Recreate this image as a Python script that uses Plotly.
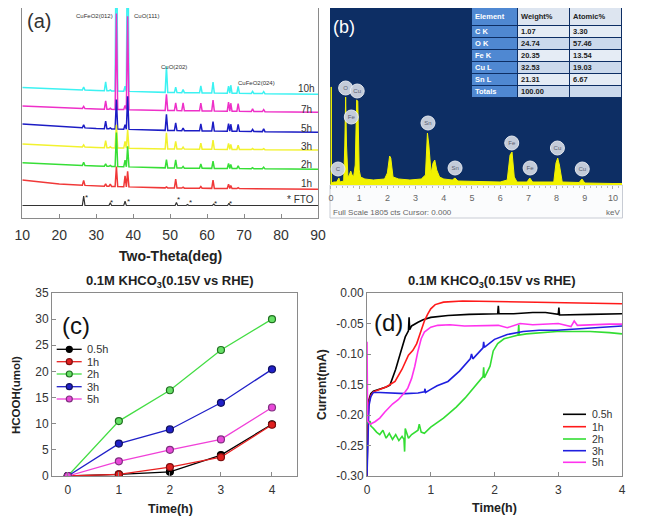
import plotly.graph_objects as go
import numpy as np

# page body has an 8px default margin: draw the figure 16px smaller and offset all pixel positions
OFF = 8
FW, FH = 659 - 2 * OFF, 532 - 2 * OFF
def px(x): return min(max((x - OFF) / FW, 0), 1)
def py(y): return min(max(1 - (y - OFF) / FH, 0), 1)

FONT = "Arial, Liberation Sans, sans-serif"

# ---------------- (a) XRD ----------------
xrd_names = ["10h", "7h", "5h", "3h", "2h", "1h"]
xrd_colors = ["#3cf2f2", "#ee30c8", "#1c1cc4", "#f2f22e", "#36de36", "#f03838"]
base_x = [10, 20, 30, 50, 90]
base_10h = [130.5, 129, 127.5, 125.5, 123.7]
base_7h = [112, 110.5, 109, 107.5, 105.7]
base_5h = [94, 91.5, 89.5, 87.5, 85.7]
base_3h = [74, 72, 70.5, 69, 68]
base_2h = [55.3, 53.5, 52, 50, 48.7]
base_1h = [38, 34, 32, 30, 28.7]
base_fto = [12.5, 12.5, 12.5, 12.5, 12.5]
peak_pos = [26.6, 32.55, 33.8, 35.46, 37.8, 38.5, 49.0, 51.5, 53.5, 58.3, 61.6, 65.8, 66.4, 68.4, 72.3, 75.3]
h_10h = [3, 9, 1, 200, 5, 200, 26, 5.5, 3, 7, 11, 7, 8, 7, 2, 2]
h_7h = [2, 8.3, 1, 96, 4, 93.5, 16, 7.7, 7.7, 7.7, 11, 9, 8, 7.7, 2.7, 2]
h_5h = [3, 7.7, 1, 29.5, 4.7, 33, 16, 7.7, 2.7, 7, 9.3, 7.7, 7, 7, 2, 2.7]
h_3h = [2, 7, 1, 23, 6.7, 18.5, 16, 7.7, 2, 6, 9.3, 6, 5, 4.3, 1, 1]
h_2h = [3.3, 2.3, 1, 34, 6.7, 20.5, 8.3, 8.3, 1.7, 4.3, 7.3, 5, 4, 2.7, 1, 1.7]
h_1h = [5, 2.3, 2.3, 20, 11, 15.5, 1, 9, 1, 1.7, 8.3, 4.3, 3, 1, 0.5, 0.5]
fto_pos = [26.6, 33.8, 37.8, 51.7, 54.7, 61.8, 65.9]
fto_h = [9.5, 2.7, 4.3, 3, 1, 1.3, 2.3]
star_x = [27.3, 34.0, 38.8, 52.2, 55.6, 62.4, 66.4]
star_y = [23, 18, 19, 21, 18, 16.3, 16.3]
label_y = [130, 109, 89.7, 72, 54, 35]

# ---------------- (b) EDS ----------------
eds_kev = [-0.04, 0.0, 0.005, 0.012, 0.02, 0.1, 0.2, 0.25, 0.28, 0.32, 0.45, 0.49, 0.52, 0.55, 0.6, 0.65, 0.7, 0.75, 0.8,
           0.86, 0.91, 0.95, 1.0, 1.05, 1.2, 1.5, 1.9, 2.0, 2.08, 2.12, 2.2, 2.4, 2.8, 3.2, 3.35, 3.42, 3.47, 3.55,
           3.62, 3.68, 3.75, 3.85, 4.0, 4.3, 4.4, 4.5, 5.0, 6.0, 6.25, 6.35, 6.42, 6.5, 6.6, 6.95, 7.05, 7.15, 7.9,
           7.98, 8.04, 8.1, 8.2, 8.8, 8.9, 9.0, 10.0, 10.35]
eds_cts = [0, 0, 98, 98, 2, 3, 3, 5, 7, 3, 4, 40, 88, 40, 8, 10, 14, 10, 8,
           20, 85, 84, 15, 8, 6, 5, 6, 12, 29, 27, 8, 6, 5, 6, 10, 52, 40, 12,
           22, 25, 15, 8, 6, 5, 7, 4, 3.5, 3, 5, 30, 33, 8, 3, 3, 7, 3, 3,
           22, 27, 20, 3, 2.5, 6, 2, 1.5, 1.5]
eds_el = ["C", "O", "Fe", "Cu", "Sn", "Sn", "Fe", "Fe", "Cu", "Cu"]
eds_el_x = [0.25, 0.52, 0.72, 0.93, 3.44, 4.4, 6.41, 7.06, 8.03, 8.91]
eds_el_y = [16, 97, 68, 94, 62, 17, 42, 17, 37, 16]
eds_ticks = list(range(0, 11))

tbl_header = ["Element", "Weight%", "Atomic%"]
tbl_elem = ["C K", "O K", "Fe K", "Cu L", "Sn L", "Totals"]
tbl_weight = ["1.07", "24.74", "20.35", "32.53", "21.31", "100.00"]
tbl_atomic = ["3.30", "57.46", "13.54", "19.03", "6.67", ""]

# ---------------- (c) HCOOH ----------------
c_time = [0, 1, 2, 3, 4]
c_names = ["0.5h", "1h", "2h", "3h", "5h"]
c_05h = [0, 0.3, 0.8, 4.0, 9.9]
c_1h = [0, 0.3, 1.7, 3.6, 9.8]
c_2h = [0, 10.5, 16.4, 24.1, 30.0]
c_3h = [0, 6.2, 8.9, 14.0, 20.4]
c_5h = [0, 2.8, 5.0, 7.0, 13.1]
c_line = ["#000000", "#e82020", "#44dd44", "#2020c8", "#f040d8"]
c_fill = ["#000000", "#e02020", "#66e066", "#2020c8", "#e848d8"]
c_edge = ["#000000", "#801010", "#207020", "#101060", "#803080"]

# ---------------- (d) current ----------------
d_names = ["0.5h", "1h", "2h", "3h", "5h"]
d_colors = ["#000000", "#ff1a1a", "#33dd33", "#1f1fdf", "#ff33ee"]
t_05h = [0, 0.01, 0.03, 0.06, 0.1, 0.2, 0.3, 0.36, 0.45, 0.52, 0.6, 0.65, 0.66, 0.67, 0.7, 0.8, 0.88, 1.0, 1.27,
         1.6, 2.0, 2.05, 2.06, 2.07, 2.3, 2.6, 2.8, 3.0, 3.01, 3.02, 3.5, 4.0]
i_05h = [-0.30, -0.22, -0.175, -0.165, -0.161, -0.158, -0.154, -0.151, -0.125, -0.10, -0.072, -0.062, -0.040, -0.060,
         -0.054, -0.048, -0.044, -0.040, -0.037, -0.035, -0.034, -0.034, -0.021, -0.034, -0.034, -0.032, -0.032,
         -0.035, -0.024, -0.036, -0.035, -0.034]
t_1h = [0, 0.01, 0.03, 0.06, 0.1, 0.2, 0.3, 0.44, 0.55, 0.65, 0.72, 0.78, 0.84, 0.9, 0.95, 1.0, 1.07, 1.2, 1.5, 2.0,
        2.5, 3.0, 3.5, 4.0]
i_1h = [-0.30, -0.22, -0.18, -0.168, -0.162, -0.158, -0.154, -0.145, -0.125, -0.102, -0.094, -0.083, -0.063, -0.046,
        -0.035, -0.026, -0.019, -0.015, -0.013, -0.014, -0.014, -0.015, -0.016, -0.0175]
t_2h = [0, 0.01, 0.05, 0.06, 0.1, 0.15, 0.2, 0.25, 0.3, 0.35, 0.4, 0.45, 0.5, 0.55, 0.58, 0.59, 0.6, 0.65, 0.7, 0.75,
        0.8, 0.82, 0.85, 0.9, 1.0, 1.2, 1.4, 1.54, 1.7, 1.82, 1.83, 1.84, 1.93, 1.98, 2.05, 2.15, 2.3, 2.37, 2.38,
        2.39, 2.5, 2.7, 2.98, 3.2, 3.5, 3.8, 4.0]
i_2h = [-0.21, -0.215, -0.21, -0.218, -0.222, -0.228, -0.232, -0.225, -0.238, -0.23, -0.24, -0.232, -0.242, -0.235,
        -0.24, -0.26, -0.222, -0.238, -0.232, -0.228, -0.225, -0.215, -0.228, -0.23, -0.22, -0.205, -0.187, -0.172,
        -0.152, -0.137, -0.122, -0.139, -0.12, -0.095, -0.083, -0.075, -0.071, -0.069, -0.052, -0.069, -0.067,
        -0.065, -0.063, -0.063, -0.063, -0.065, -0.067]
t_3h = [0, 0.01, 0.03, 0.06, 0.1, 0.2, 0.39, 0.6, 0.8, 0.9, 0.91, 0.92, 1.0, 1.1, 1.27, 1.45, 1.62, 1.64, 1.66, 1.75,
        1.82, 1.83, 1.84, 2.0, 2.2, 2.45, 2.7, 2.98, 3.3, 3.5, 3.8, 4.0]
i_3h = [-0.30, -0.25, -0.185, -0.17, -0.163, -0.163, -0.164, -0.165, -0.164, -0.162, -0.157, -0.163, -0.158, -0.152,
        -0.145, -0.128, -0.108, -0.100, -0.108, -0.097, -0.090, -0.080, -0.089, -0.076, -0.068, -0.063, -0.061,
        -0.061, -0.059, -0.058, -0.056, -0.054]
t_5h = [0, 0.003, 0.006, 0.01, 0.05, 0.125, 0.2, 0.28, 0.4, 0.49, 0.6, 0.64, 0.7, 0.75, 0.8, 0.85, 0.9, 1.0, 1.11,
        1.3, 1.53, 1.8, 2.06, 2.2, 2.4, 2.6, 2.8, 3.0, 3.2, 3.25, 3.3, 3.5, 3.8, 4.0]
i_5h = [-0.08, -0.21, -0.12, -0.21, -0.215, -0.211, -0.205, -0.195, -0.182, -0.175, -0.162, -0.156, -0.14, -0.12,
        -0.095, -0.075, -0.064, -0.056, -0.053, -0.052, -0.054, -0.053, -0.053, -0.057, -0.05, -0.052, -0.051,
        -0.05, -0.055, -0.046, -0.053, -0.052, -0.051, -0.051]

# ======================================================
fig = go.Figure()

def xrd_line(bx, by, pos, hts, hw):
    pts = [(x, y) for x, y in zip(bx, by)]
    for p, h in zip(pos, hts):
        for xx, add in ((p - hw, 0.0), (p, h), (p + hw, 0.0)):
            pts.append((xx, float(np.interp(xx, bx, by)) + add))
    pts.sort(key=lambda t: t[0])
    return [p[0] for p in pts], [p[1] for p in pts]

fx, fy = xrd_line(base_x, base_fto, fto_pos, fto_h, 0.35)
fig.add_trace(go.Scatter(x=fx, y=fy, mode="lines", line=dict(color="#333333", width=1.2),
                         xaxis="x", yaxis="y", showlegend=False))
for name, col, b, hts in zip(xrd_names, xrd_colors,
                             [base_10h, base_7h, base_5h, base_3h, base_2h, base_1h],
                             [h_10h, h_7h, h_5h, h_3h, h_2h, h_1h]):
    lx, ly = xrd_line(base_x, b, peak_pos, hts, 0.35)
    fig.add_trace(go.Scatter(x=lx, y=ly, mode="lines", line=dict(color=col, width=1.5),
                             xaxis="x", yaxis="y", showlegend=False, name=name))

# (b) EDS spectrum
fig.add_trace(go.Scatter(x=eds_kev, y=eds_cts, mode="lines", fill="tozeroy",
                         fillcolor="#f2f200", line=dict(color="#f2f200", width=1),
                         xaxis="x2", yaxis="y2", showlegend=False))
fig.add_trace(go.Scatter(x=eds_el_x, y=eds_el_y, mode="markers+text", text=eds_el,
                         textfont=dict(size=6, color="#5a6070", family=FONT),
                         marker=dict(size=14, color="#cdd4e0", line=dict(color="#eef1f6", width=1), opacity=0.95),
                         xaxis="x2", yaxis="y2", showlegend=False))

# (b) table as a heatmap of cell colours + text
col_edges = [0, 46, 98, 150]
row_edges = [0, 18, 30, 42, 54, 66, 78, 90]
z_tbl = [[0, 1, 1]] + [[0, 2 + (r % 2), 2 + (r % 2)] for r in range(6)]
fig.add_trace(go.Heatmap(x=col_edges, y=row_edges, z=z_tbl, zmin=0, zmax=3, showscale=False,
                         colorscale=[[0, "#4f88d2"], [1 / 3, "#dde5f0"], [2 / 3, "#e5ecf5"], [1, "#cbd9ec"]],
                         xgap=1, ygap=1, hoverinfo="skip", xaxis="x5", yaxis="y5"))
tbl_rows = [tbl_header] + [list(r) for r in zip(tbl_elem, tbl_weight, tbl_atomic)]
row_mid = [(row_edges[i] + row_edges[i + 1]) / 2 for i in range(len(row_edges) - 1)]
for ci, cx in enumerate(col_edges[:-1]):
    pairs = [(r[ci], ym) for r, ym in zip(tbl_rows, row_mid) if r[ci]]
    fig.add_trace(go.Scatter(x=[cx + 3] * len(pairs), y=[p[1] for p in pairs], mode="text",
                             text=[p[0] for p in pairs], textposition="middle right",
                             textfont=dict(size=7.5, family=FONT, weight="bold",
                                           color="white" if ci == 0 else "#222222"),
                             hoverinfo="skip", showlegend=False, xaxis="x5", yaxis="y5"))

# (c) HCOOH
for name, ys, lc, fc, ec in zip(c_names, [c_05h, c_1h, c_2h, c_3h, c_5h], c_line, c_fill, c_edge):
    fig.add_trace(go.Scatter(x=c_time, y=ys, mode="lines+markers", name=name,
                             line=dict(color=lc, width=1.3),
                             marker=dict(size=7, color=fc, line=dict(color=ec, width=1.2)),
                             xaxis="x3", yaxis="y3", showlegend=False))

# (d) current
for name, tt, ii, col in zip(d_names, [t_05h, t_1h, t_2h, t_3h, t_5h], [i_05h, i_1h, i_2h, i_3h, i_5h], d_colors):
    fig.add_trace(go.Scatter(x=tt, y=ii, mode="lines", name=name, line=dict(color=col, width=1.6),
                             xaxis="x4", yaxis="y4", showlegend=False))

# ---------------- axes ----------------
axcol = "#8a8a8a"
tickfont = dict(family=FONT, size=14, color="#333333")
fig.update_layout(
    width=FW, height=FH, margin=dict(l=0, r=0, t=0, b=0, autoexpand=False),
    paper_bgcolor="white", plot_bgcolor="rgba(0,0,0,0)",
    font=dict(family=FONT),
    xaxis=dict(domain=[px(22.3), px(318)], range=[10, 90], tickvals=list(range(10, 91, 10)),
               ticks="inside", ticklen=4, tickcolor=axcol, showline=True, mirror=True, linecolor=axcol,
               linewidth=1.2, showgrid=False, zeroline=False, tickfont=tickfont, ticklabelstandoff=4,
               anchor="y"),
    yaxis=dict(domain=[py(218), py(6)], range=[0, 210], showticklabels=False, ticks="", showline=True,
               mirror=True, linecolor=axcol, linewidth=1.2, showgrid=False, zeroline=False, anchor="x"),
    xaxis2=dict(domain=[px(330), px(622)], range=[-0.035, 10.32], tickvals=eds_ticks, ticks="outside",
                ticklen=3, tickcolor="#aaaaaa", showline=False, showgrid=False, zeroline=False,
                tickfont=dict(family=FONT, size=9, color="#666666"), ticklabelstandoff=1,
                minor=dict(dtick=0.2, ticks="outside", ticklen=2, tickcolor="#bbbbbb"), anchor="y2"),
    yaxis2=dict(domain=[py(185), py(6)], range=[0, 177], visible=False, anchor="x2"),
    xaxis5=dict(domain=[px(472), px(622)], range=[0, 150], visible=False, anchor="y5", fixedrange=True),
    yaxis5=dict(domain=[py(98), py(8)], range=[90, 0], visible=False, anchor="x5", fixedrange=True),
    xaxis3=dict(domain=[px(52), px(297)], range=[-0.31, 4.49], tickvals=c_time, ticks="inside", ticklen=4,
                tickcolor=axcol, showline=True, mirror=True, linecolor=axcol, showgrid=False, zeroline=False,
                tickfont=dict(family=FONT, size=12, color="#333333"), ticklabelstandoff=3, anchor="y3"),
    yaxis3=dict(domain=[py(476), py(293)], range=[0, 35], tickvals=[0, 5, 10, 15, 20, 25, 30, 35],
                ticks="inside", ticklen=4, tickcolor=axcol, showline=True, mirror=True, linecolor=axcol,
                showgrid=False, zeroline=False, tickfont=dict(family=FONT, size=12, color="#333333"),
                anchor="x3"),
    xaxis4=dict(domain=[px(367), px(622)], range=[0, 4], tickvals=[0, 1, 2, 3, 4], ticks="inside", ticklen=4,
                tickcolor=axcol, showline=True, mirror=True, linecolor=axcol, showgrid=False, zeroline=False,
                tickfont=dict(family=FONT, size=12, color="#333333"), ticklabelstandoff=3, anchor="y4"),
    yaxis4=dict(domain=[py(476), py(293)], range=[-0.30, 0.0],
                tickvals=[0, -0.05, -0.10, -0.15, -0.20, -0.25, -0.30],
                ticktext=["0.00", "-0.05", "-0.10", "-0.15", "-0.20", "-0.25", "-0.30"],
                ticks="inside", ticklen=4, tickcolor=axcol, showline=True, mirror=True, linecolor=axcol,
                showgrid=False, zeroline=False, tickfont=dict(family=FONT, size=12, color="#333333"),
                anchor="x4"),
)

shapes = [
    dict(type="rect", xref="paper", yref="paper", x0=px(330), x1=px(622), y0=py(185), y1=py(6),
         fillcolor="#0d2e64", line=dict(width=0), layer="below"),
    dict(type="rect", xref="paper", yref="paper", x0=px(330), x1=px(622.5), y0=py(218), y1=py(185),
         fillcolor="#fbfcfd", line=dict(color="#c8ccd4", width=1), layer="below"),
]
ann = []
def A(text, x, y, size, color="#222222", bold=False, xanchor="center", xref="paper", yref="paper", **kw):
    t = "<b>%s</b>" % text if bold else text
    ann.append(dict(text=t, x=x, y=y, xref=xref, yref=yref, showarrow=False, xanchor=xanchor, yanchor="middle",
                    font=dict(family=FONT, size=size, color=color), **kw))

# (a) annotations (peak labels in data coordinates)
A("(a)", px(39), py(21), 20, "#333333")
A("CuFeO2(012)", 35.0, 218 - 16, 6, "#333333", xanchor="right", xref="x", yref="y")
A("CuO(111)", 39.6, 218 - 16, 6, "#333333", xanchor="left", xref="x", yref="y")
A("CuO(202)", 47.1, 218 - 66.7, 6, "#333333", xanchor="left", xref="x", yref="y")
A("CuFeO2(024)", 67.8, 218 - 83.3, 6, "#333333", xanchor="left", xref="x", yref="y")
for lab, yv in zip(xrd_names, label_y):
    A(lab, 86.8, yv, 10, "#333333", xref="x", yref="y")
A("* FTO", 85.3, 19, 10, "#333333", xref="x", yref="y")
for sx, sy in zip(star_x, star_y):
    A("*", sx, sy, 8, "#222222", xref="x", yref="y", yshift=-2)
A("Two-Theta(deg)", px(170), py(256), 14, "#222222", bold=True)

# (b) annotations
A("(b)", px(344), py(27), 18, "white")
A("Full Scale 1805 cts Cursor: 0.000", px(331), py(212), 8, "#666666", xanchor="left")
A("keV", px(622), py(212), 8, "#666666", xanchor="right")

# (c) annotations
A("0.1M KHCO<sub>3</sub>(0.15V vs RHE)", px(170), py(281), 13, "#222222", bold=True)
A("(c)", px(76), py(325), 24, "#111111")
A("Time(h)", px(170), py(509), 12.5, "#222222", bold=True)
A("HCOOH(umol)", px(16), py(395), 11.5, "#222222", bold=True, textangle=-90)
leg_c_y = [349.3, 361.7, 374, 386.7, 399]
for name, yy, lc, fc, ec in zip(c_names, leg_c_y, c_line, c_fill, c_edge):
    shapes.append(dict(type="line", xref="paper", yref="paper", x0=px(56.7), x1=px(81.7), y0=py(yy), y1=py(yy),
                       line=dict(color=lc, width=1.3)))
    shapes.append(dict(type="circle", xref="paper", yref="paper", x0=px(66.3), x1=px(72.3), y0=py(yy + 3),
                       y1=py(yy - 3), fillcolor=fc, line=dict(color=ec, width=1.2)))
    A(name, px(85), py(yy), 11, "#333333", xanchor="left")

# (d) annotations
A("0.1M KHCO<sub>3</sub>(0.15V vs RHE)", px(492), py(281), 13, "#222222", bold=True)
A("(d)", px(388), py(322), 24, "#111111")
A("Time(h)", px(494), py(508), 12.5, "#222222", bold=True)
A("Current(mA)", px(322), py(385), 12, "#222222", bold=True, textangle=-90)
leg_d_y = [414.3, 426.7, 439, 450.7, 462.3]
for name, yy, col in zip(d_names, leg_d_y, d_colors):
    shapes.append(dict(type="line", xref="paper", yref="paper", x0=px(563), x1=px(586), y0=py(yy), y1=py(yy),
                       line=dict(color=col, width=1.6)))
    A(name, px(590), py(yy), 10.5, "#333333", xanchor="left")

fig.update_layout(shapes=shapes, annotations=ann)
fig.write_html("out.html")
